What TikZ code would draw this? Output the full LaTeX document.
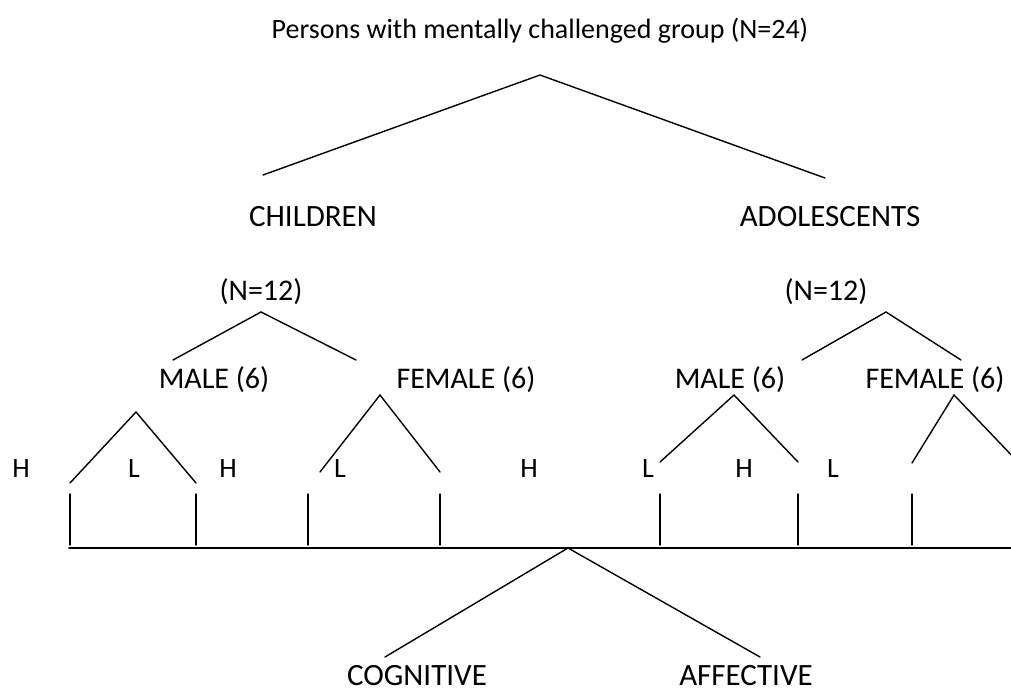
\documentclass[tikz,border=0pt]{standalone}
\usepackage{fontspec}
\setmainfont{Carlito}
\usetikzlibrary{positioning}

\begin{document}
\begin{tikzpicture}[
    x=1pt,y=-1pt,
    lbl/.style={anchor=base,inner sep=0pt,font=\fontsize{28}{32}\selectfont},
    grp/.style={lbl,text depth=0pt,font=\fontsize{31}{35}\selectfont},
    sub/.style={lbl,font=\fontsize{30}{34}\selectfont},
    branch/.style={line width=1.4pt},
    line cap=round
  ]
    \useasboundingbox (0,0) rectangle (1011,693);
    \clip (0,0) rectangle (1011,693);
    % labels
    \node[lbl] (top) at (540,38) {Persons with mentally challenged group (N=24)};
    \node[grp] (ch) at (313,226) {CHILDREN};
    \node[grp] (ad) at (830,226) {ADOLESCENTS};
    \node[sub] (chN) at (261,300) {(N=12)};
    \node[sub] (adN) at (826,300) {(N=12)};
    \node[sub] (chM) at (214,388) {MALE (6)};
    \node[sub] (chF) at (466,388) {FEMALE (6)};
    \node[sub] (adM) at (730,388) {MALE (6)};
    \node[sub] (adF) at (935,388) {FEMALE (6)};
    \node[grp] (cog) at (417,685) {COGNITIVE};
    \node[grp] (aff) at (746,685) {AFFECTIVE};
    % H / L marks
    \foreach \x/\t [count=\i] in {21/H,134/L,228/H,340/L,529/H,648/L,744/H,833/L}
      \node[lbl] (hl\i) at (\x,477) {\t};
    % branch points
    \coordinate (r) at (540,75);  \coordinate (rL) at (263,175); \coordinate (rR) at (825,178);
    \coordinate (c) at (261,312); \coordinate (cL) at (173,360); \coordinate (cR) at (356,360);
    \coordinate (a) at (886,312); \coordinate (aL) at (802,360); \coordinate (aR) at (961,360);
    \coordinate (cm) at (136,412); \coordinate (cmL) at (70,483);  \coordinate (cmR) at (196,483);
    \coordinate (cf) at (380,395); \coordinate (cfL) at (320,472); \coordinate (cfR) at (440,472);
    \coordinate (am) at (734,395); \coordinate (amL) at (660,462); \coordinate (amR) at (798,462);
    \coordinate (af) at (954,395); \coordinate (afL) at (912,463); \coordinate (afR) at (1018,462);
    \coordinate (b) at (568,548);  \coordinate (bL) at (385,657);  \coordinate (bR) at (760,657);
    \coordinate (baseL) at (69,548); \coordinate (baseR) at (1011,548);
    % tree
    \draw[branch] (rL) -- (r) -- (rR);
    \draw[branch] (cL) -- (c) -- (cR);
    \draw[branch] (aL) -- (a) -- (aR);
    \draw[branch] (cmL) -- (cm) -- (cmR);
    \draw[branch] (cfL) -- (cf) -- (cfR);
    \draw[branch] (amL) -- (am) -- (amR);
    \draw[branch] (afL) -- (af) -- (afR);
    \foreach \x [count=\i] in {70,196,308,440,660,798,912}{
      \coordinate (t\i) at (\x,494);
      \draw[branch] (t\i) -- ++(0,51);
    }
    \draw[branch,line width=1.8pt] (baseL) -- (baseR);
    \draw[branch] (bL) -- (b) -- (bR);
\end{tikzpicture}
\end{document}
